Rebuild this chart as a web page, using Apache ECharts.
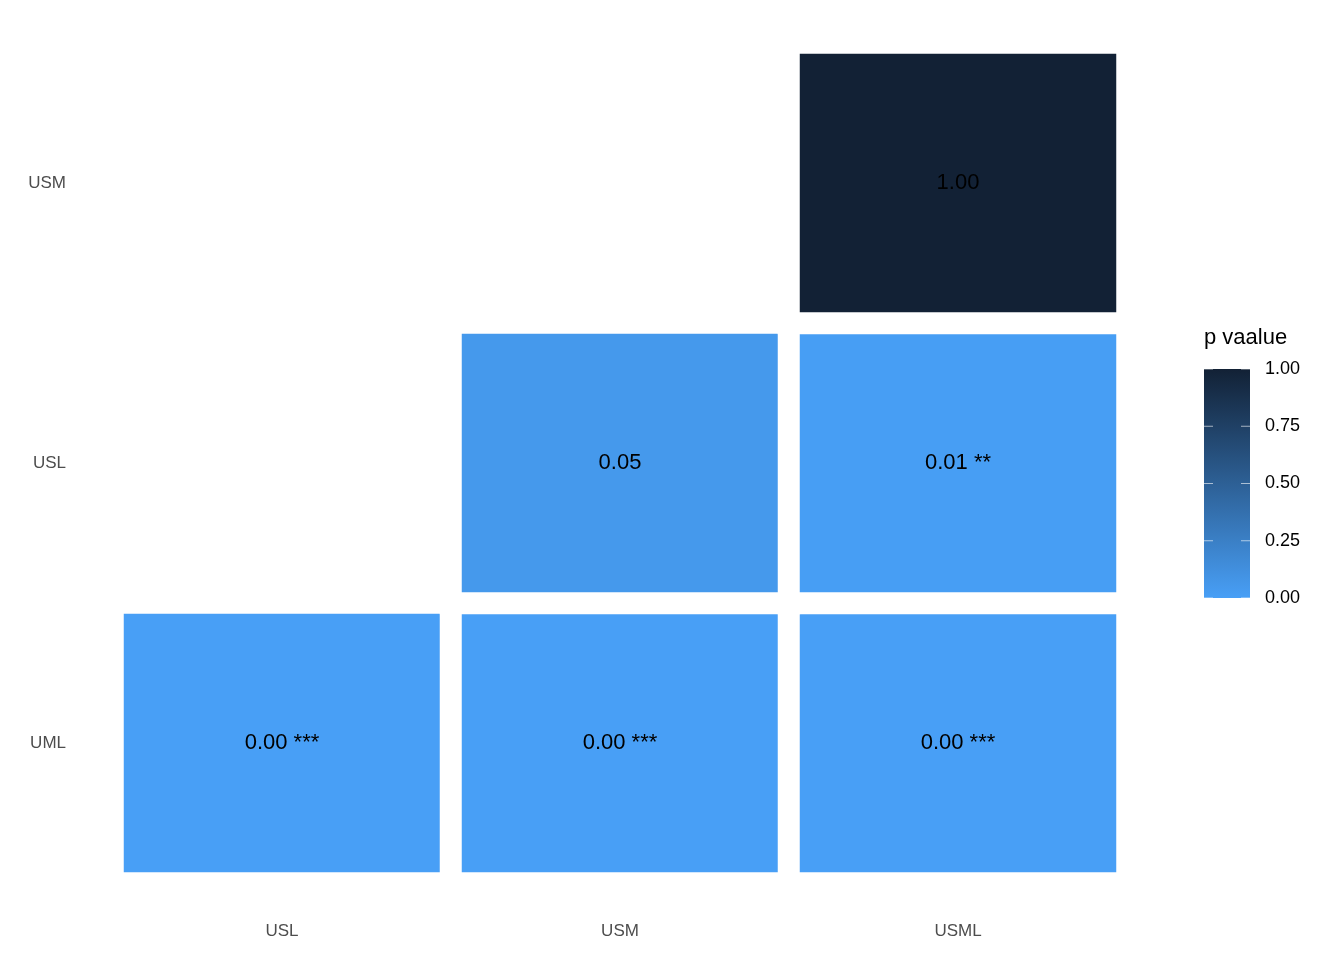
<!DOCTYPE html>
<html><head><meta charset="utf-8">
<script src="https://cdn.jsdelivr.net/npm/echarts@6/dist/echarts.min.js"></script>
<style>html,body{margin:0;padding:0;background:#fff}#c{width:1344px;height:960px}</style>
</head><body><div id="c"></div>
<script>
const xCats = ['USL','USM','USML'];
const yCats = ['UML','USL','USM'];
// [xIndex, yIndex, p]
const cells = [[0,0,0.0003],[1,0,0.0002],[2,0,0.0004],[1,1,0.05],[2,1,0.01],[2,2,1.00]];
const stars = ['***','***','***','','**',''];
const legendTicks = [0,0.25,0.5,0.75,1];
const lowC='#489ff6', highC='#122135';
const chart = echarts.init(document.getElementById('c'));
const lgX=1204, lgTop=369, lgH=229, lgW=46;
const g=[
 {type:'text',left:1204,top:327,style:{text:'p vaalue',font:'22px "Liberation Sans"',fill:'#000'}},
 {type:'rect',shape:{x:lgX,y:lgTop,width:lgW,height:lgH},style:{fill:new echarts.graphic.LinearGradient(0,0,0,1,[{offset:0,color:highC},{offset:1,color:lowC}])}}
];
legendTicks.forEach(t=>{
  const y=lgTop+lgH*(1-t);
  g.push({type:'line',shape:{x1:lgX,y1:y,x2:lgX+9,y2:y},style:{stroke:'#fff',opacity:0.6,lineWidth:1}});
  g.push({type:'line',shape:{x1:lgX+lgW-9,y1:y,x2:lgX+lgW,y2:y},style:{stroke:'#fff',opacity:0.6,lineWidth:1}});
  g.push({type:'text',x:1265,y:y,style:{text:t.toFixed(2),font:'18px "Liberation Sans"',fill:'#000',verticalAlign:'middle'}});
});
chart.setOption({
  animation:false,
  grid:{left:113,right:1344-1127,top:43,bottom:960-883},
  xAxis:{type:'category',data:xCats,axisLine:{show:false},axisTick:{show:false},splitLine:{show:false},
    axisLabel:{color:'#4d4d4d',fontSize:17,fontFamily:'Liberation Sans',margin:40}},
  yAxis:{type:'category',data:yCats,axisLine:{show:false},axisTick:{show:false},splitLine:{show:false},
    axisLabel:{color:'#4d4d4d',fontSize:17,fontFamily:'Liberation Sans',margin:47}},
  visualMap:{show:false,min:0,max:1,inRange:{color:[lowC,highC]},dimension:2},
  graphic:g,
  series:[{type:'heatmap',data:cells,
    itemStyle:{borderColor:'#fff',borderWidth:22},
    label:{show:true,fontSize:22,fontFamily:'Liberation Sans',color:'#000',
      formatter:p=>{const s=stars[p.dataIndex];return p.value[2].toFixed(2)+(s?' '+s:'');}},
    emphasis:{disabled:true}}]
});
</script></body></html>
